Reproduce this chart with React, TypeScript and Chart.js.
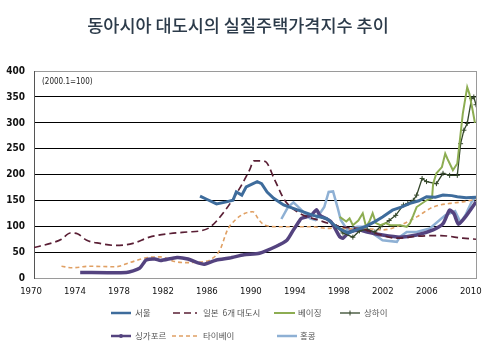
import React, { useEffect, useRef } from "react";
import { Chart, registerables } from "chart.js";

Chart.register(...registerables);

const titleText = "동아시아 대도시의 실질주택가격지수 추이";
const baseNote = "(2000.1=100)";
const xTickYears = [1970, 1974, 1978, 1982, 1986, 1990, 1994, 1998, 2002, 2006, 2010];

const seriesNames = ["서울", "일본  6개 대도시", "베이징", "상하이", "싱가포르", "타이베이", "홍콩"];

const seoulX = [1985.1, 1985.7, 1986.6, 1987.5, 1988.1, 1988.4, 1988.9, 1989.3, 1990.3, 1990.7, 1991.2, 1991.8, 1992.7, 1993.9, 1995.4, 1996.6, 1997.5, 1998.0, 1998.6, 1999.4, 2000.1, 2001.0, 2001.7, 2002.6, 2003.4, 2004.2, 2005.0, 2005.7, 2006.5, 2007.2, 2008.0, 2008.5, 2009.3, 2010.2];
const seoulY = [159, 153, 144, 148, 151, 167, 161, 177, 187, 183, 167, 155, 142, 133, 122, 116, 100, 94, 88, 95, 100, 110, 119, 132, 138, 145, 150, 158, 157, 161, 160, 158, 156, 157];

const japanX = [1970.0, 1971.5, 1972.5, 1973.3, 1974.0, 1974.8, 1976.0, 1977.5, 1979.0, 1980.5, 1982.4, 1984.0, 1985.1, 1986.0, 1987.4, 1988.7, 1989.6, 1990.0, 1991.0, 1991.9, 1992.8, 1994.0, 1996.0, 1998.0, 2000.0, 2001.0, 2003.0, 2005.0, 2007.0, 2009.0, 2010.2];
const japanY = [60, 68, 76, 88, 86, 74, 68, 64, 68, 80, 87, 90, 92, 99, 132, 174, 209, 227, 226, 190, 151, 128, 112, 100, 95, 88, 78, 82, 83, 78, 76];

const beijingX = [1997.8, 1998.4, 1998.7, 1999.0, 1999.5, 1999.9, 2000.2, 2000.5, 2000.8, 2001.1, 2001.5, 2002.0, 2002.4, 2003.3, 2003.9, 2004.2, 2004.5, 2004.8, 2005.7, 2006.2, 2006.3, 2006.6, 2007.1, 2007.4, 2007.6, 2008.1, 2008.5, 2008.7, 2009.0, 2009.4, 2009.6, 2009.9, 2010.1];
const beijingY = [119, 110, 116, 103, 112, 126, 100, 110, 126, 107, 103, 107, 103, 103, 100, 107, 122, 138, 151, 155, 183, 203, 215, 241, 231, 209, 222, 260, 318, 369, 356, 324, 300];

const shanghaiX = [1997.5, 1998.1, 1999.0, 1999.6, 2000.3, 2001.0, 2001.5, 2002.3, 2002.9, 2003.6, 2004.0, 2004.5, 2004.8, 2005.3, 2005.7, 2006.6, 2007.2, 2007.8, 2008.5, 2008.8, 2009.1, 2009.4, 2009.8, 2010.0, 2010.2];
const shanghaiY = [100, 88, 80, 92, 95, 90, 100, 112, 122, 142, 145, 151, 161, 193, 187, 183, 203, 199, 199, 260, 286, 299, 347, 350, 335];

const singaporeX = [1974.2, 1978.4, 1979.6, 1980.2, 1981.0, 1981.5, 1983.0, 1984.0, 1985.0, 1985.5, 1986.6, 1987.8, 1989.1, 1990.5, 1992.0, 1993.0, 1993.6, 1994.1, 1994.3, 1995.2, 1995.7, 1996.0, 1997.0, 1997.8, 1998.1, 1998.7, 1999.6, 2000.3, 2001.7, 2003.3, 2004.8, 2006.3, 2007.2, 2007.8, 2008.2, 2008.6, 2009.2, 2010.2];
const singaporeY = [12, 12, 20, 36, 38, 35, 41, 38, 30, 28, 36, 40, 46, 49, 62, 74, 94, 110, 116, 122, 133, 122, 110, 81, 78, 90, 94, 90, 84, 80, 84, 94, 106, 132, 125, 105, 118, 148];

const taipeiX = [1972.5, 1973.5, 1975.0, 1977.4, 1978.7, 1980.4, 1981.5, 1982.8, 1984.0, 1985.5, 1986.0, 1986.9, 1987.6, 1988.3, 1989.2, 1989.9, 1990.5, 1991.0, 1992.2, 1993.7, 1995.3, 1996.7, 1997.6, 1998.5, 2000.0, 2001.7, 2003.3, 2004.8, 2006.3, 2007.8, 2009.0, 2010.2];
const taipeiY = [24, 21, 24, 23, 31, 41, 42, 33, 31, 33, 36, 55, 94, 113, 126, 129, 112, 103, 100, 100, 100, 97, 98, 96, 97, 94, 103, 119, 138, 145, 148, 153];

const hongkongX = [1992.5, 1993.1, 1993.6, 1994.2, 1995.1, 1995.6, 1996.4, 1996.8, 1997.2, 1997.6, 1997.9, 1998.5, 1999.4, 2000.1, 2000.5, 2001.7, 2003.0, 2003.3, 2003.9, 2004.8, 2006.0, 2006.9, 2007.4, 2008.3, 2008.8, 2009.3, 2009.8, 2010.2];
const hongkongY = [115, 138, 147, 135, 116, 113, 138, 167, 168, 138, 113, 94, 100, 100, 92, 74, 71, 81, 90, 90, 97, 113, 122, 130, 108, 125, 148, 158];

function pts(xs: number[], ys: number[]) {
  return xs.map((x, i) => ({ x, y: ys[i] }));
}

const FONT_NUM = "'Liberation Sans Narrow', 'DejaVu Sans Condensed', 'Liberation Sans', sans-serif";
const FONT_KR = "'Noto Sans CJK KR', 'Noto Sans', sans-serif";

export default function App() {
  const ref = useRef<HTMLCanvasElement | null>(null);

  useEffect(() => {
    document.body.style.margin = "0";
    const canvas = ref.current;
    if (!canvas) return;

    const legendLayout = [
      { i: 0, lx: 111, tx: 135, y: 313, len: 20 },
      { i: 1, lx: 173, tx: 203, y: 313, len: 24 },
      { i: 2, lx: 274, tx: 298, y: 313, len: 21 },
      { i: 3, lx: 340, tx: 364, y: 313, len: 20 },
      { i: 4, lx: 111, tx: 135, y: 336, len: 20 },
      { i: 5, lx: 172, tx: 203, y: 336, len: 25 },
      { i: 6, lx: 277, tx: 300, y: 336, len: 20 },
    ];

    const extras = {
      id: "extras",
      afterDraw(chart: any) {
        const { ctx, chartArea } = chart;
        ctx.save();
        ctx.strokeStyle = "#9a9a9a";
        ctx.lineWidth = 1;
        ctx.beginPath();
        ctx.moveTo(Math.round(chartArea.right) + 0.5, chartArea.top);
        ctx.lineTo(Math.round(chartArea.right) + 0.5, chartArea.bottom);
        ctx.stroke();
        ctx.fillStyle = "#222";
        ctx.font = `8px ${FONT_NUM}`;
        ctx.textAlign = "left";
        ctx.textBaseline = "middle";
        ctx.fillText(baseNote, chartArea.left + 8, chartArea.top + 11);
        legendLayout.forEach((it) => {
          const ds = chart.data.datasets[it.i];
          ctx.save();
          ctx.strokeStyle = ds.borderColor;
          ctx.lineWidth = Math.min(ds.borderWidth, 2.5);
          ctx.setLineDash(ds.borderDash || []);
          ctx.beginPath();
          ctx.moveTo(it.lx, it.y);
          ctx.lineTo(it.lx + it.len, it.y);
          ctx.stroke();
          ctx.setLineDash([]);
          const mx = it.lx + it.len / 2;
          if (it.i === 3) {
            ctx.lineWidth = 1;
            ctx.beginPath();
            ctx.moveTo(mx, it.y - 2.5);
            ctx.lineTo(mx, it.y + 2.5);
            ctx.stroke();
          }
          if (it.i === 4) {
            ctx.fillStyle = ds.borderColor;
            ctx.beginPath();
            ctx.arc(mx, it.y, 2, 0, Math.PI * 2);
            ctx.fill();
          }
          ctx.restore();
          ctx.fillStyle = "#555";
          ctx.font = `8.5px ${FONT_KR}`;
          ctx.textAlign = "left";
          ctx.textBaseline = "middle";
          ctx.fillText(seriesNames[it.i], it.tx, it.y);
        });
        ctx.restore();
      },
    };

    const chart = new Chart(canvas, {
      type: "line",
      data: {
        datasets: [
          { label: seriesNames[0], data: pts(seoulX, seoulY), borderColor: "#3e6c9c", borderWidth: 3, pointRadius: 0, tension: 0 },
          { label: seriesNames[1], data: pts(japanX, japanY), borderColor: "#5a1f35", borderWidth: 1.7, borderDash: [7, 4], pointRadius: 0, cubicInterpolationMode: "monotone" },
          { label: seriesNames[2], data: pts(beijingX, beijingY), borderColor: "#8dad52", borderWidth: 2, pointRadius: 0, tension: 0 },
          { label: seriesNames[3], data: pts(shanghaiX, shanghaiY), borderColor: "#34472a", borderWidth: 1.3, pointRadius: 2.5, pointStyle: "cross", pointBorderColor: "#34472a", pointBorderWidth: 1, tension: 0 },
          { label: seriesNames[4], data: pts(singaporeX, singaporeY), borderColor: "#54437f", borderWidth: 3.5, pointRadius: 0, tension: 0.2 },
          { label: seriesNames[5], data: pts(taipeiX, taipeiY), borderColor: "#e0a064", borderWidth: 1.6, borderDash: [4, 3], pointRadius: 0, cubicInterpolationMode: "monotone" },
          { label: seriesNames[6], data: pts(hongkongX, hongkongY), borderColor: "#8eb0d4", borderWidth: 2.5, pointRadius: 0, tension: 0 },
        ] as any,
      },
      options: {
        animation: false,
        responsive: false,
        maintainAspectRatio: false,
        layout: { padding: { left: 0, right: 16, top: 0, bottom: 64 } },
        plugins: {
          legend: { display: false },
          tooltip: { enabled: false },
          title: {
            display: true,
            text: titleText,
            color: "#2c3b4a",
            font: { family: FONT_KR, size: 17.5, weight: 500 as any },
            padding: { top: 15, bottom: 35 },
          },
        },
        scales: {
          x: {
            type: "linear",
            min: 1970,
            max: 2010.2,
            afterBuildTicks: (scale: any) => {
              scale.ticks = xTickYears.map((v) => ({ value: v }));
            },
            afterFit: (scale: any) => {
              scale.height = 21.3;
            },
            grid: { display: false, drawTicks: false },
            border: { display: true, color: "#9a9a9a", width: 1 },
            ticks: {
              callback: (v: any) => String(v),
              color: "#111",
              font: { family: FONT_NUM, size: 9.5 },
              padding: 7,
              labelOffset: -3,
              maxRotation: 0,
              autoSkip: false,
            },
          },
          y: {
            min: 0,
            max: 400,
            afterFit: (scale: any) => {
              scale.width = 34;
            },
            grid: {
              drawTicks: false,
              color: (c: any) => (c.tick && (c.tick.value === 400 || c.tick.value === 0) ? "#9a9a9a" : "#000"),
              lineWidth: 1,
            },
            border: { display: true, color: "#555", width: 1 },
            ticks: {
              stepSize: 50,
              color: "#111",
              font: { family: FONT_NUM, size: 10, weight: "bold" },
              padding: 9,
            },
          },
        },
      },
      plugins: [extras],
    });

    return () => chart.destroy();
  }, []);

  return (
    <div style={{ width: 492, height: 364, background: "#fff" }}>
      <canvas ref={ref} width={492} height={364} style={{ display: "block", width: 492, height: 364 }} />
    </div>
  );
}
